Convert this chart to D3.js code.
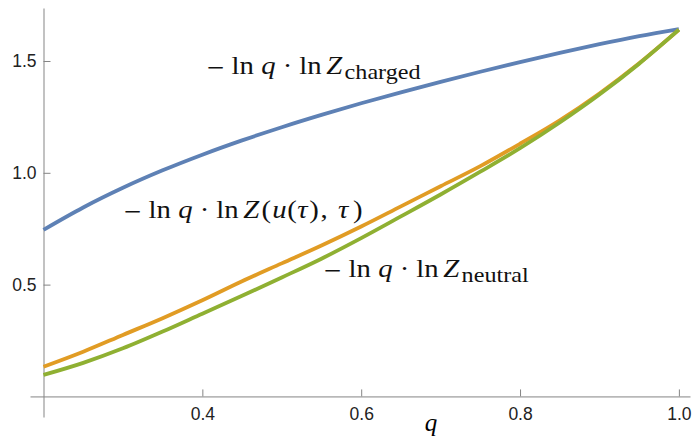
<!DOCTYPE html>
<html>
<head>
<meta charset="utf-8">
<script src="https://cdn.jsdelivr.net/npm/d3@7"></script>
<style>
  body { margin: 0; background: #fff; }
  .tick text { font-family: "Liberation Sans", Arial, sans-serif; font-size: 17.5px; fill: #222; }
  .math { font-family: "Liberation Serif", "Times New Roman", serif; font-size: 25px; fill: #111; }
</style>
</head>
<body>
<div id="graphic"></div>
<script>
// q values and the three curves
var qVals    = [0.20, 0.25, 0.30, 0.35, 0.40, 0.45, 0.50, 0.55, 0.60, 0.65, 0.70, 0.75, 0.80, 0.85, 0.90, 0.95, 1.00];
var charged  = [0.745, 0.845, 0.933, 1.011, 1.081, 1.145, 1.204, 1.259, 1.311, 1.360, 1.407, 1.452, 1.495, 1.536, 1.575, 1.611, 1.643];
var uTau     = [0.133, 0.200, 0.275, 0.350, 0.430, 0.515, 0.595, 0.675, 0.760, 0.850, 0.940, 1.030, 1.130, 1.235, 1.355, 1.490, 1.640];
var neutral  = [0.096, 0.150, 0.215, 0.290, 0.370, 0.450, 0.532, 0.616, 0.708, 0.805, 0.903, 1.005, 1.110, 1.225, 1.350, 1.488, 1.640];

var xMajor = [0.4, 0.6, 0.8, 1.0];
var xMinor = [0.25, 0.3, 0.35, 0.45, 0.5, 0.55, 0.65, 0.7, 0.75, 0.85, 0.9, 0.95];
var yMajor = [0.5, 1.0, 1.5];
var yMinor = [0.1, 0.2, 0.3, 0.4, 0.6, 0.7, 0.8, 0.9, 1.1, 1.2, 1.3, 1.4, 1.6, 1.7];

var W = 693, H = 437;
var svg = d3.select("#graphic").append("svg")
    .attr("width", W)
    .attr("height", H);

// plot range incl. Mathematica-style padding
var x = d3.scaleLinear().domain([0.183, 1.014]).range([30, 690]);
var y = d3.scaleLinear().domain([-0.092, 1.737]).range([417, 8]);

var axisColor = "#858585";

// x axis sits at y = 0, y axis at q = 0.2
var gx = svg.append("g").attr("transform", "translate(0," + y(0) + ")");
gx.call(d3.axisBottom(x).tickValues(xMinor).tickSize(-4).tickSizeOuter(0).tickFormat(""));
gx.call(d3.axisBottom(x).tickValues(xMajor).tickSize(-7).tickSizeOuter(0).tickPadding(11)
    .tickFormat(d3.format(".1f")));

var gy = svg.append("g").attr("transform", "translate(" + x(0.2) + ",0)");
gy.call(d3.axisLeft(y).tickValues(yMinor).tickSize(-4.5).tickSizeOuter(0).tickFormat(""));
gy.call(d3.axisLeft(y).tickValues(yMajor).tickSize(-7).tickSizeOuter(0).tickPadding(7)
    .tickFormat(d3.format(".1f")));

svg.selectAll(".domain").attr("stroke", axisColor);
svg.selectAll(".tick line").attr("stroke", axisColor);

// axis label
svg.append("text")
    .attr("x", x(0.68))
    .attr("y", 431)
    .attr("font-family", "Liberation Serif, serif")
    .attr("font-style", "italic")
    .attr("font-size", 25)
    .text("q");

// curves
var line = d3.line()
    .x(function(d) { return x(d[0]); })
    .y(function(d) { return y(d[1]); })
    .curve(d3.curveMonotoneX);

var series = [
    { vals: charged, color: "#5e81b5" },
    { vals: uTau,    color: "#e19c24" },
    { vals: neutral, color: "#8fb032" }
];
series.forEach(function(s) {
    svg.append("path")
        .datum(qVals.map(function(q, i) { return [q, s.vals[i]]; }))
        .attr("fill", "none")
        .attr("stroke", s.color)
        .attr("stroke-width", 3.8)
        .attr("d", line);
});

// math labels: [text, dx, style]; stretched a bit to get TeX-like widths
function mathLabel(px, py, pieces) {
    var t = svg.append("text").attr("class", "math")
        .attr("transform", "translate(" + px + "," + py + ") scale(1.15,1)");
    pieces.forEach(function(p) {
        var s = t.append("tspan").text(p[0]);
        if (p[1]) s.attr("dx", p[1]);
        if (p[2] == "i") s.attr("font-style", "italic");
        if (p[2] == "sub") s.attr("font-size", 21).attr("dy", 5);
        if (p[2] == "minus") s.attr("font-family", "DejaVu Serif, serif").attr("font-size", 20);
    });
}
var head = [["\u2212", 0, "minus"], ["ln", 5.5], ["q", 6.25, "i"], ["\u00b7", 6.2], ["ln", 6.2], ["Z", 4, "i"]];

mathLabel(206, 74, head.concat([["charged", 2, "sub"]]));
mathLabel(123, 218, head.concat([["(", 2], ["u", 1, "i"], ["(", 0.5], ["\u03c4", 0.4, "i"],
    [")", 1.4], [",", 1.5], ["\u03c4", 9, "i"], [")", 4]]));
mathLabel(323, 277, head.concat([["neutral", 2, "sub"]]));
</script>
</body>
</html>
